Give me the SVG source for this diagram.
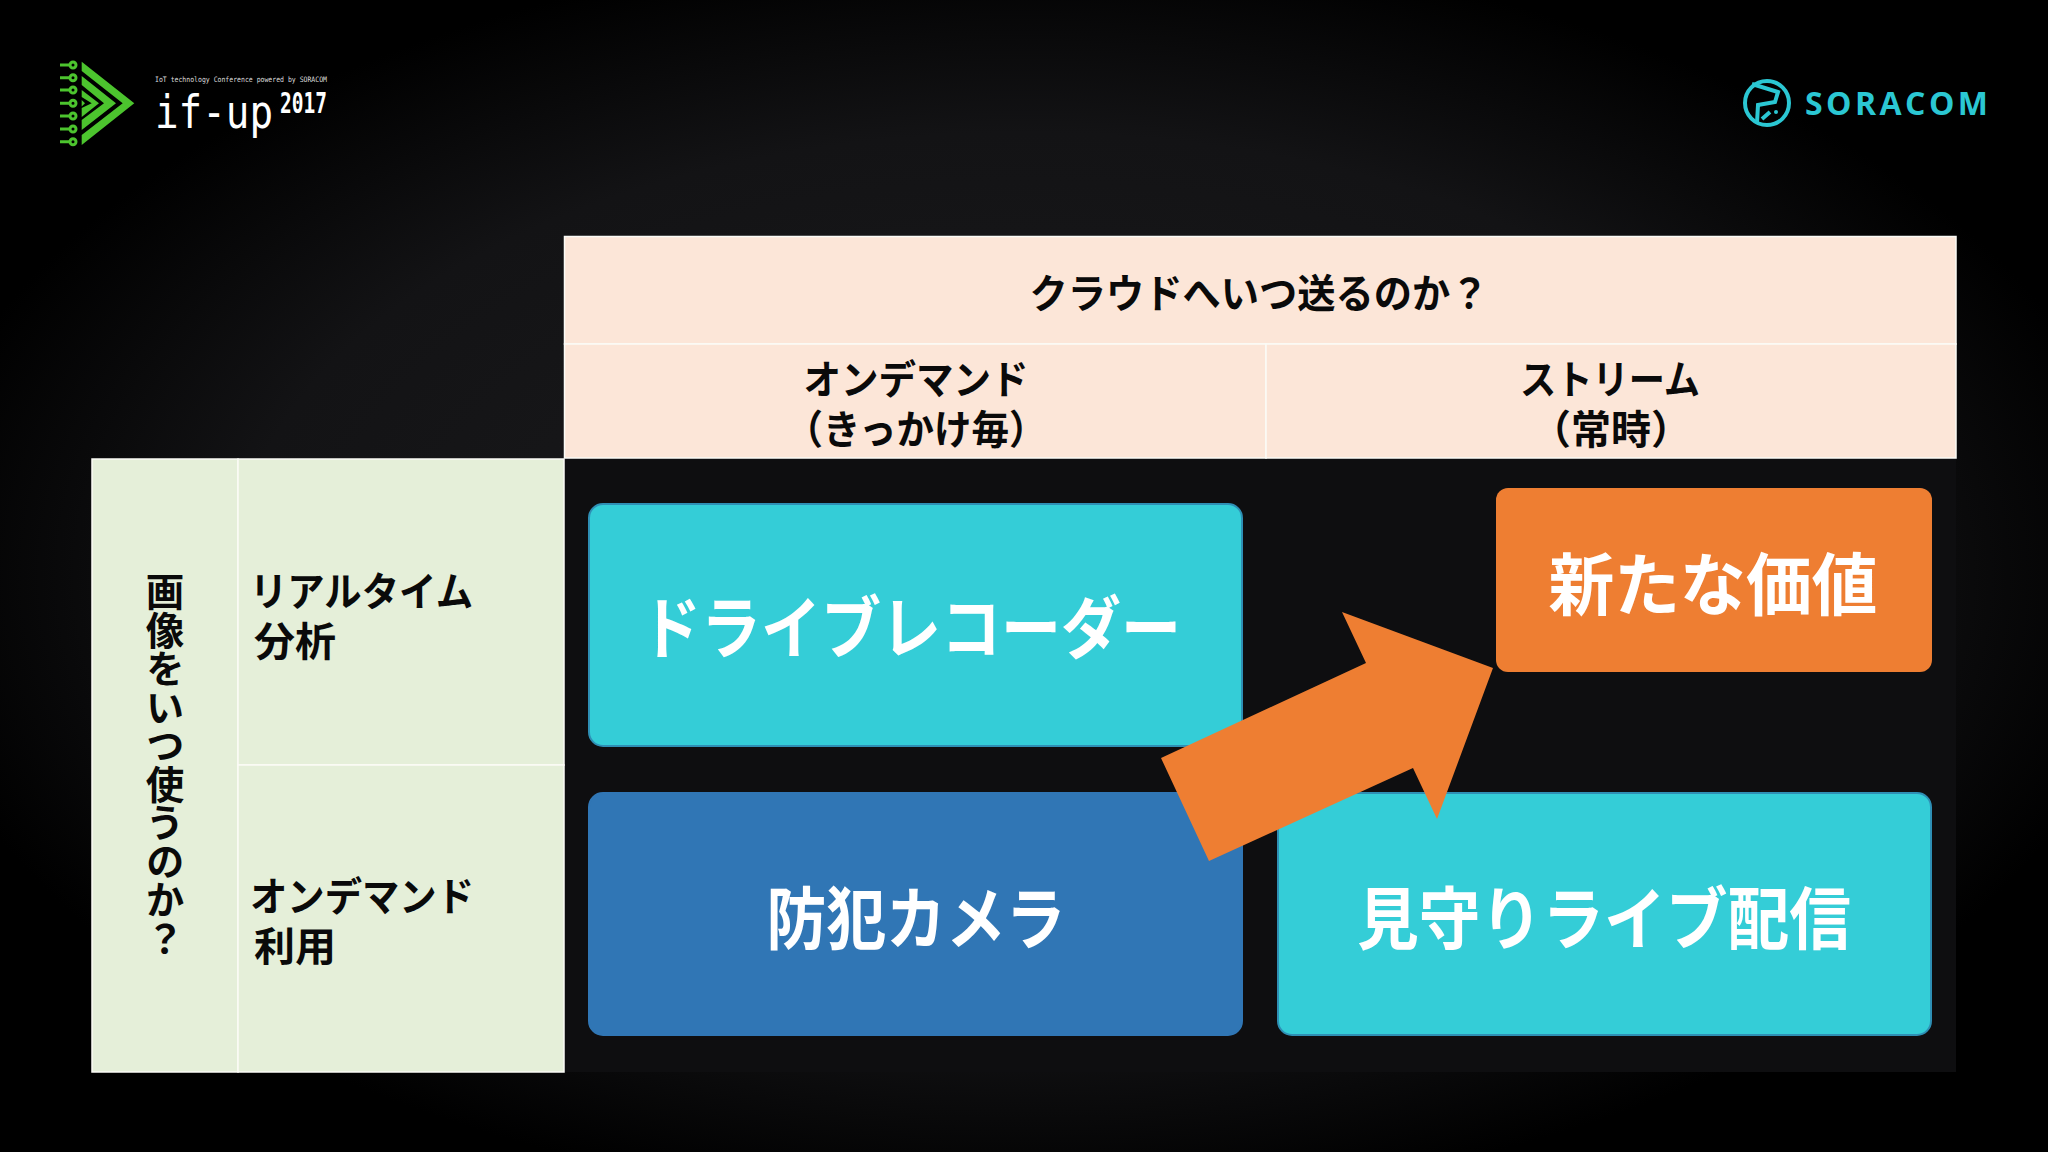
<svg xmlns="http://www.w3.org/2000/svg" width="2048" height="1152" viewBox="0 0 2048 1152">
<defs>
<radialGradient id="bg" cx="50%" cy="50%" r="55%"><stop offset="0" stop-color="#1c1c1e"/><stop offset="0.7" stop-color="#131315"/><stop offset="1" stop-color="#000"/></radialGradient>
</defs>
<style>
text{font-family:"Noto Sans CJK JP","Noto Sans",sans-serif}
.mono{font-family:"DejaVu Sans Mono",monospace}
.h{font-size:40px;font-weight:700;fill:#0a0a0a;text-anchor:middle}
.l{font-size:40px;font-weight:700;fill:#0a0a0a}
.b{font-size:68px;font-weight:700;fill:#fff;text-anchor:middle}
.cell{stroke:#fbfbf6;stroke-width:1.5}
.peach{fill:#fce6d8}
.green{fill:#e5efd9}
.box{stroke-width:2}
.lg{fill:#4cc42e}
.teal{fill:#2bc7d3}
</style>
<rect width="2048" height="1152" fill="url(#bg)"/>
<g id="logo-ifup">
<polygon class="lg" points="81.7,61.7 134.3,103.3 81.7,145 81.7,135 122.7,103.3 81.7,71"/>
<polygon class="lg" points="81.7,76 116,103.3 81.7,130 81.7,120 104,103.3 81.7,85"/>
<polygon class="lg" points="81.7,90 99,103.3 81.7,117 81.7,108 91.7,103.3 81.7,97"/>
<polygon class="lg" points="81.7,100 85,103.3 81.7,106.6"/>
<path d="M60,65h10M60,77.7h10M60,90h10M60,103.3h10M60,116h10M60,129h10M60,141.7h10" stroke="#4cc42e" stroke-width="3" fill="none"/>
<g fill="#000" stroke="#4cc42e" stroke-width="3"><circle cx="73" cy="65" r="3"/><circle cx="73" cy="77.7" r="3"/><circle cx="73" cy="90" r="3"/><circle cx="73" cy="103.3" r="3"/><circle cx="73" cy="116" r="3"/><circle cx="73" cy="129" r="3"/><circle cx="73" cy="141.7" r="3"/></g>
<text class="mono" x="155" y="82" font-size="7.5" fill="#ddd" textLength="172" lengthAdjust="spacingAndGlyphs">IoT technology Conference powered by SORACOM</text>
<text class="mono" x="155" y="128" font-size="46" fill="#fff" textLength="118" lengthAdjust="spacingAndGlyphs">if-up</text>
<text class="mono" x="280" y="113" font-size="29" font-weight="700" fill="#fff" textLength="47" lengthAdjust="spacingAndGlyphs">2017</text>
</g>
<g id="logo-soracom">
<circle cx="1767" cy="103" r="22" fill="none" stroke="#2bc7d3" stroke-width="4"/>
<path d="M1752,84 L1778,92 L1775,102 L1758,105 L1757,123 M1762,119 L1770,112" fill="none" stroke="#2bc7d3" stroke-width="4"/>
<circle cx="1776" cy="112" r="2" class="teal"/>
<text x="1805" y="115" font-size="32" font-weight="700" class="teal" style="font-family:'Open Sans',sans-serif" textLength="183" lengthAdjust="spacing">SORACOM</text>
</g>
<rect id="grid-bg" x="564" y="458" width="1392" height="614" fill="#0e0e10"/>
<g id="head-top"><rect class="peach cell" x="564.5" y="236.5" width="1391.5" height="107.5"/><text class="h" x="1259" y="308" textLength="459" lengthAdjust="spacingAndGlyphs">クラウドへいつ送るのか？</text></g>
<g id="head-ondemand"><rect class="peach cell" x="564.5" y="344" width="701.5" height="114"/><text class="h" x="916" y="394" textLength="225" lengthAdjust="spacingAndGlyphs">オンデマンド</text><text class="h" x="916" y="444" textLength="261" lengthAdjust="spacingAndGlyphs">（きっかけ毎）</text></g>
<g id="head-stream"><rect class="peach cell" x="1266" y="344" width="690" height="114"/><text class="h" x="1610" y="394" textLength="180" lengthAdjust="spacingAndGlyphs">ストリーム</text><text class="h" x="1611" y="444">（常時）</text></g>
<g id="side"><rect class="green cell" x="92" y="459" width="146" height="613"/><text class="h" x="165" y="765" style="writing-mode:vertical-rl;font-size:38.5px">画像をいつ使うのか？</text></g>
<g id="row-realtime"><rect class="green cell" x="238" y="459" width="326" height="306"/><text class="l" x="250" y="606" textLength="223" lengthAdjust="spacingAndGlyphs">リアルタイム</text><text class="l" x="254" y="656" textLength="82" lengthAdjust="spacingAndGlyphs">分析</text></g>
<g id="row-ondemand"><rect class="green cell" x="238" y="765" width="326" height="307"/><text class="l" x="250" y="911" textLength="224" lengthAdjust="spacingAndGlyphs">オンデマンド</text><text class="l" x="254" y="961" textLength="82" lengthAdjust="spacingAndGlyphs">利用</text></g>
<g id="n-drive"><rect class="box" x="589" y="504" width="653" height="242" rx="14" fill="#34cdd7" stroke="#2e8fb5"/><text class="b" x="911" y="653" textLength="540" lengthAdjust="spacingAndGlyphs">ドライブレコーダー</text></g>
<g id="n-camera"><rect class="box" x="589" y="793" width="653" height="242" rx="14" fill="#3076b5" stroke="#3076b5"/><text class="b" x="916" y="944" textLength="299" lengthAdjust="spacingAndGlyphs">防犯カメラ</text></g>
<g id="n-watch"><rect class="box" x="1278" y="793" width="653" height="242" rx="14" fill="#34cdd7" stroke="#2e8fb5"/><text class="b" x="1604" y="944" textLength="494" lengthAdjust="spacingAndGlyphs">見守りライブ配信</text></g>
<g id="n-value"><rect x="1496" y="488" width="436" height="184" rx="12" fill="#ee7e32"/><text class="b" x="1713" y="610" textLength="329" lengthAdjust="spacingAndGlyphs">新たな価値</text></g>
<g id="connectors"><polygon fill="#ee7e32" points="1161,758 1366,663 1342,612 1493,668 1437,819 1413,768 1209,861"/></g>
</svg>
